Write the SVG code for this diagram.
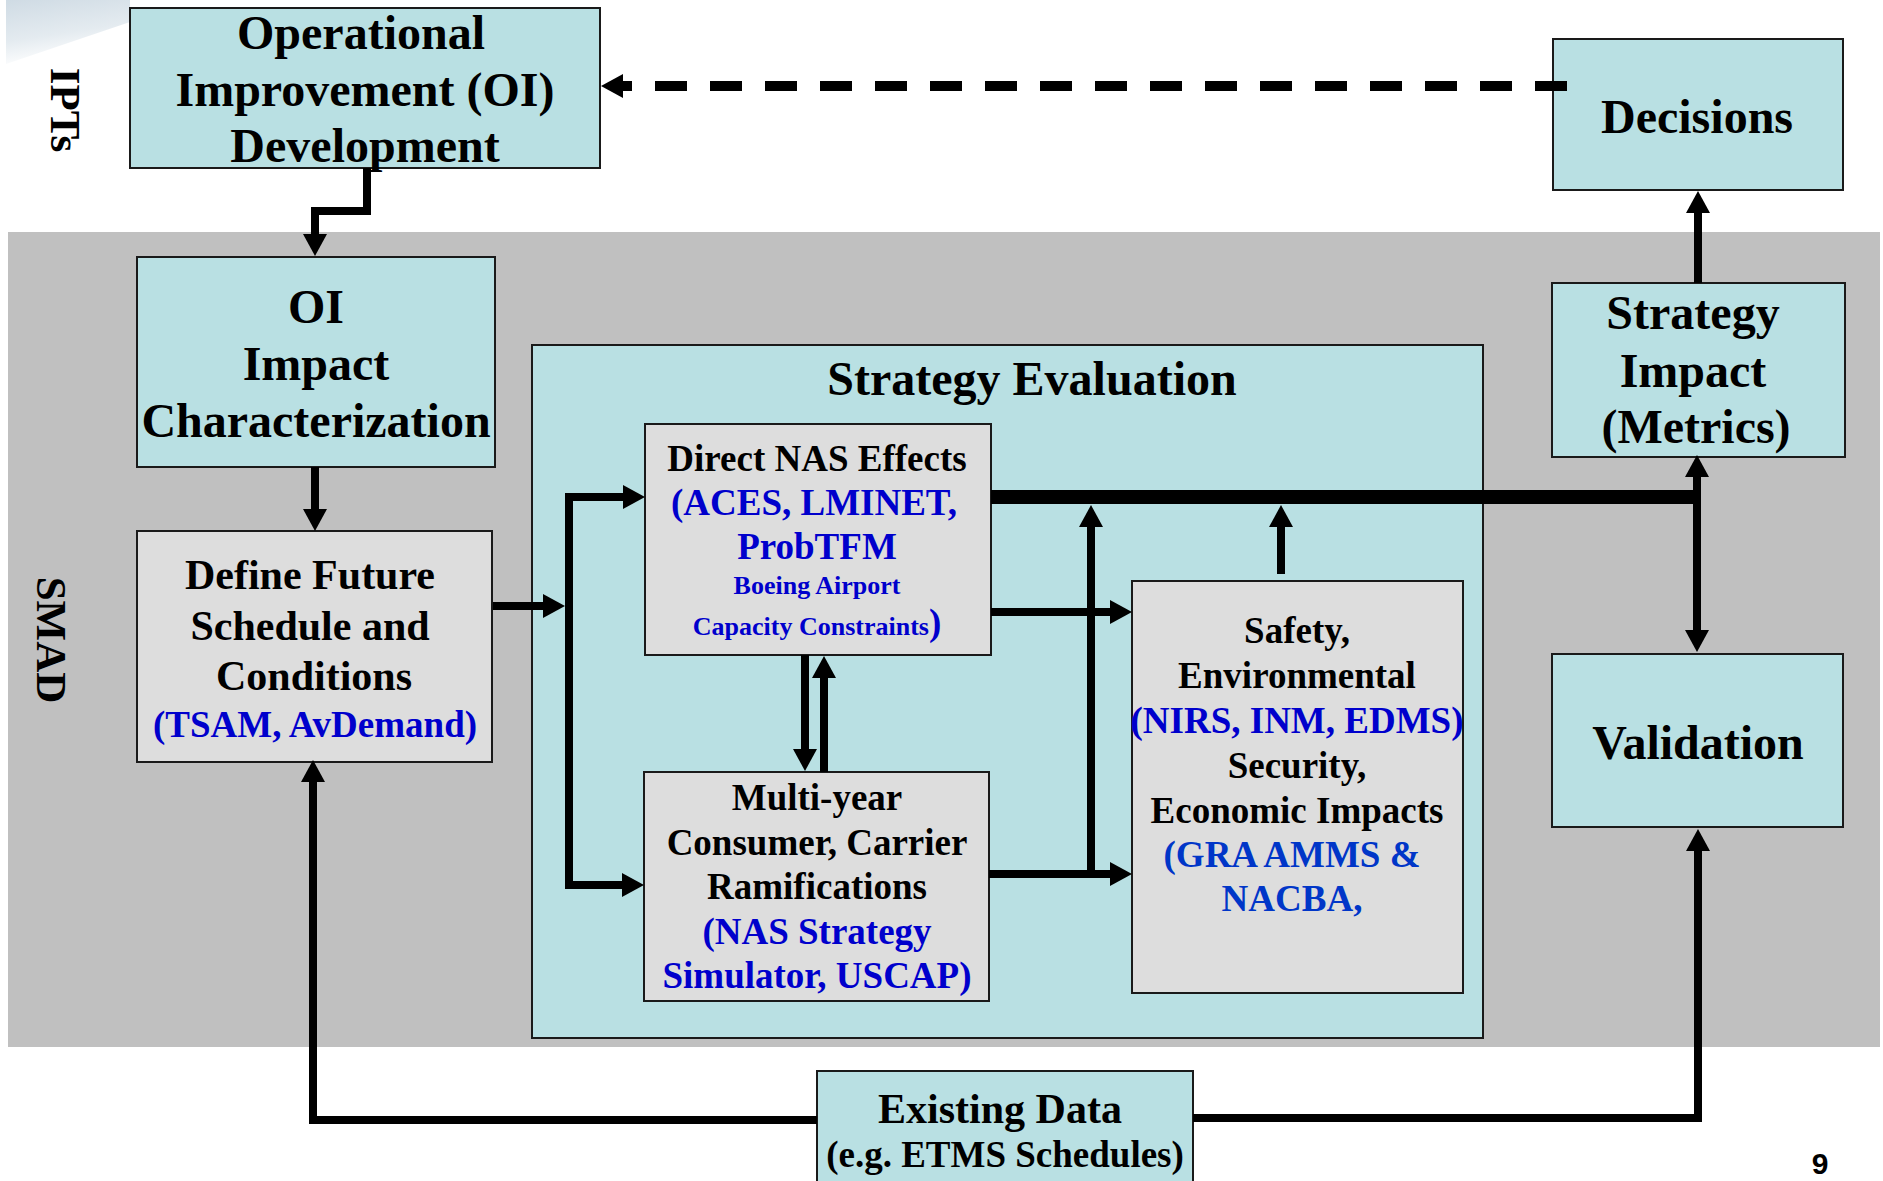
<svg xmlns="http://www.w3.org/2000/svg" width="1883" height="1181" viewBox="0 0 1883 1181">
<defs>
<linearGradient id="deco" x1="0" y1="0" x2="0.3" y2="1">
<stop offset="0" stop-color="#cfdbe4"/>
<stop offset="0.6" stop-color="#e4ebf0"/>
<stop offset="1" stop-color="#ffffff"/>
</linearGradient>
<marker id="ah" markerUnits="userSpaceOnUse" markerWidth="23" markerHeight="24" refX="10" refY="12" orient="auto">
<path d="M0,0 L22,12 L0,24 Z" fill="#000"/>
</marker>
</defs>
<style>
.cy{fill:#b9e0e3;stroke:#1a1a1a;stroke-width:2}
.gy{fill:#dddddd;stroke:#1a1a1a;stroke-width:2}
text{font-family:"Liberation Serif","Times New Roman",serif;font-weight:bold;text-anchor:middle;fill:#000}
.f48{font-size:48px}
.f43{font-size:43px}
.f42{font-size:42px}
.f37{font-size:37px}
.f26{font-size:26px}
.b{fill:#0000cc}
.b2{fill:#0036c8}
.c{fill:none;stroke:#000;stroke-width:8;stroke-linejoin:miter}
.ca{marker-end:url(#ah)}
</style>
<rect width="1883" height="1181" fill="#fff"/>
<polygon points="6,0 130,0 130,22 6,64" fill="url(#deco)"/>
<rect x="8" y="232" width="1872" height="815" fill="#c0c0c0"/>
<text class="f43" transform="translate(51,110) rotate(90)">IPTs</text>
<text class="f43" transform="translate(37,640) rotate(90)">SMAD</text>

<g id="strategy-evaluation">
<rect class="cy" x="532" y="345" width="951" height="693"/>
<text class="f48" x="1032" y="395">Strategy Evaluation</text>
</g>
<g id="oi-development">
<rect class="cy" x="130" y="8" width="470" height="160"/>
<text class="f48" x="361" y="49">Operational</text>
<text class="f48" x="365" y="106">Improvement (OI)</text>
<text class="f48" x="365" y="162">Development</text>
</g>
<g id="decisions">
<rect class="cy" x="1553" y="39" width="290" height="151"/>
<text class="f48" x="1697" y="133">Decisions</text>
</g>
<g id="strategy-impact">
<rect class="cy" x="1552" y="283" width="293" height="174"/>
<text class="f48" x="1693" y="329">Strategy</text>
<text class="f48" x="1693" y="387">Impact</text>
<text class="f48" x="1696" y="443">(Metrics)</text>
</g>
<g id="oi-impact">
<rect class="cy" x="137" y="257" width="358" height="210"/>
<text class="f48" x="316" y="323">OI</text>
<text class="f48" x="316" y="380">Impact</text>
<text class="f48" x="316" y="437">Characterization</text>
</g>
<g id="define-future">
<rect class="gy" x="137" y="531" width="355" height="231"/>
<text class="f42" x="310" y="589">Define Future</text>
<text class="f42" x="310" y="640">Schedule and</text>
<text class="f42" x="314" y="690">Conditions</text>
<text class="f37 b" x="315" y="737">(TSAM, AvDemand)</text>
</g>
<g id="direct-nas">
<rect class="gy" x="645" y="424" width="346" height="231"/>
<text class="f37" x="817" y="471">Direct NAS Effects</text>
<text class="f37 b" x="814" y="515">(ACES, LMINET,</text>
<text class="f37 b" x="817" y="559">ProbTFM</text>
<text class="f26 b" x="817" y="594">Boeing Airport</text>
<text class="f26 b" x="817" y="635">Capacity Constraints<tspan class="f37">)</tspan></text>
</g>
<g id="multi-year">
<rect class="gy" x="644" y="772" width="345" height="229"/>
<text class="f37" x="817" y="810">Multi-year</text>
<text class="f37" x="817" y="855">Consumer, Carrier</text>
<text class="f37" x="817" y="899">Ramifications</text>
<text class="f37 b" x="817" y="944">(NAS Strategy</text>
<text class="f37 b" x="817" y="988">Simulator, USCAP)</text>
</g>
<g id="safety">
<rect class="gy" x="1132" y="581" width="331" height="412"/>
<text class="f37" x="1297" y="643">Safety,</text>
<text class="f37" x="1297" y="688">Environmental</text>
<text class="f37 b" x="1297" y="733">(NIRS, INM, EDMS)</text>
<text class="f37" x="1297" y="778">Security,</text>
<text class="f37" x="1297" y="823">Economic Impacts</text>
<text class="f37 b2" x="1292" y="867">(GRA AMMS &amp;</text>
<text class="f37 b2" x="1292" y="911">NACBA,</text>
</g>
<g id="validation">
<rect class="cy" x="1552" y="654" width="291" height="173"/>
<text class="f48" x="1698" y="759">Validation</text>
</g>
<g id="existing-data">
<rect class="cy" x="817" y="1071" width="376" height="125"/>
<text class="f42" x="1000" y="1123">Existing Data</text>
<text class="f37" x="1005" y="1167">(e.g. ETMS Schedules)</text>
</g>
<text x="1820" y="1174" style="font-family:'Liberation Sans',Arial,sans-serif;font-size:30px;font-weight:bold">9</text>

<g id="connectors">
<path class="c ca" d="M367,168 V211 H315 V244"/>
<path class="c ca" d="M315,467 V519"/>
<path class="c ca" d="M493,606 H553"/>
<path class="c ca" d="M569,700 V497 H633"/>
<path class="c ca" d="M569,690 V885 H632"/>
<path class="c ca" d="M805,655 V759"/>
<path class="c ca" d="M824,772 V668"/>
<path class="c" style="stroke-width:14" d="M991,497 H1701"/>
<path class="c ca" d="M1697,500 V467"/>
<path class="c ca" d="M1697,494 V640"/>
<path class="c ca" d="M1698,283 V203"/>
<path class="c ca" d="M991,612 H1120"/>
<path class="c ca" d="M989,874 H1120"/>
<path class="c ca" d="M1091,878 V517"/>
<path class="c ca" d="M1281,574 V517"/>
<path class="c ca" d="M817,1120 H313 V772"/>
<path class="c ca" d="M1193,1118 H1698 V841"/>
<path class="c ca" style="stroke-width:10;stroke-dasharray:32 23" d="M1567,86 H613"/>
</g>
</svg>
